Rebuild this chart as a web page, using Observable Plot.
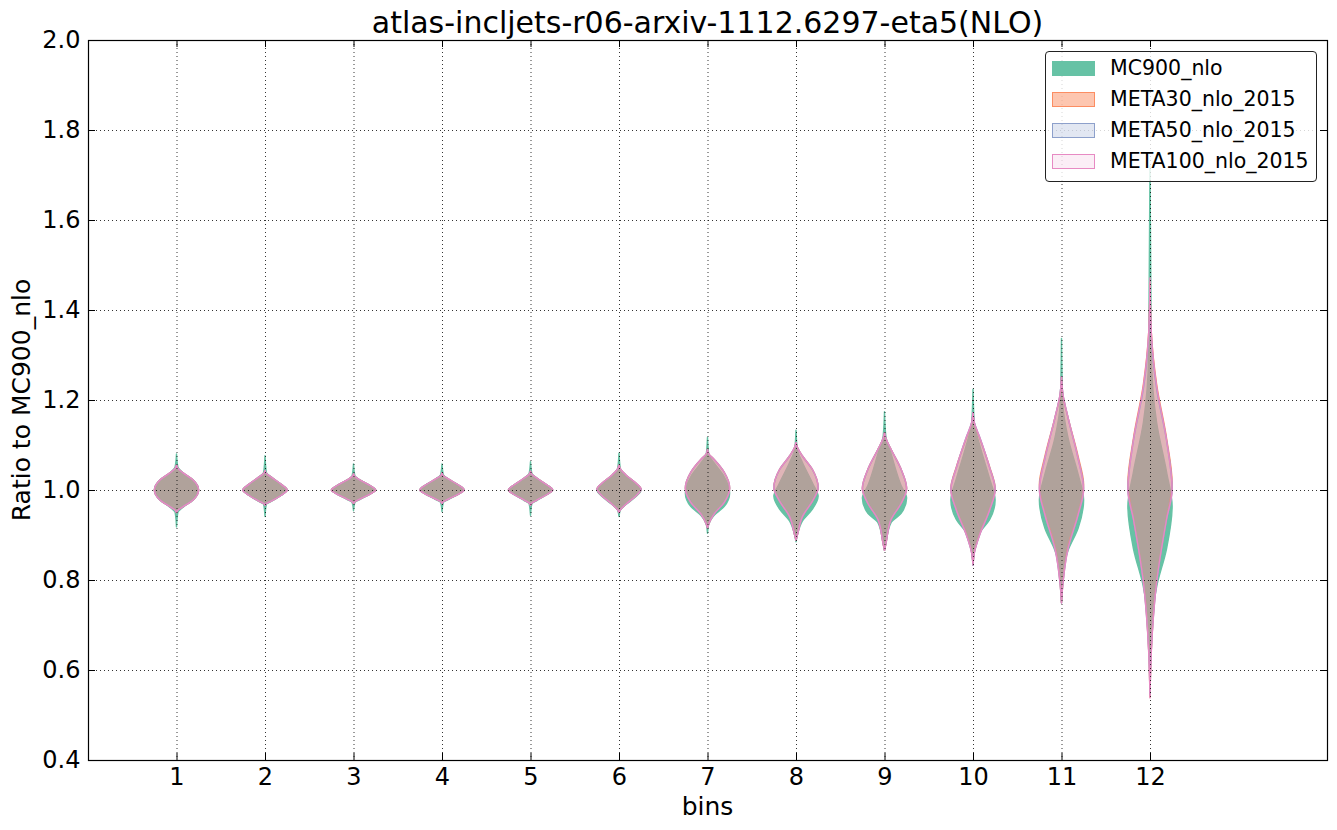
<!DOCTYPE html>
<html>
<head>
<meta charset="utf-8">
<script src="https://cdn.jsdelivr.net/npm/d3@7"></script>
<script src="https://cdn.jsdelivr.net/npm/@observablehq/plot@0.6"></script>
<style>
  body { margin: 0; background: #fff; font-family: "DejaVu Sans", sans-serif; }
  #wrap { position: relative; width: 1337px; height: 830px; overflow: hidden; }
  #wrap svg { position: absolute; left: 0; top: 0; }
  .title { position: absolute; left: 88px; width: 1239px; top: 5px; text-align: center; font-size: 30px; line-height: normal; white-space: nowrap; color: #000; }
  .xlabel { position: absolute; left: 88px; width: 1239px; top: 792px; text-align: center; font-size: 25px; line-height: normal; color: #000; }
  .ylabel { position: absolute; left: 21px; top: 400px; font-size: 25px; line-height: normal; white-space: nowrap; color: #000; transform: translate(-50%, -50%) rotate(-90deg); }
  .legend { position: absolute; left: 1045px; top: 51px; width: 272px; height: 131px; box-sizing: border-box; border: 1px solid #222; border-radius: 4px; background: rgba(255,255,255,0.8); }
  .legend .sw { position: absolute; left: 6px; width: 43px; height: 15px; box-sizing: border-box; border: 1.5px solid; }
  .legend .lt { position: absolute; left: 64px; font-size: 20.5px; line-height: 20px; white-space: nowrap; color: #000; }
</style>
</head>
<body>
<div id="wrap"></div>
<script>
// ---- data ----
const bins = [1, 2, 3, 4, 5, 6, 7, 8, 9, 10, 11, 12];
const xTicks = [1, 2, 3, 4, 5, 6, 7, 8, 9, 10, 11, 12];
const yTicks = [0.4, 0.6, 0.8, 1.0, 1.2, 1.4, 1.6, 1.8, 2.0];
// relative half-width of the violin at each profile knot (bottom -> top)
const knotWidths = [0, 0.06, 0.3, 0.75, 1, 0.75, 0.3, 0.06, 0];
// ratio values at each knot, one row per bin
const mc900 = [
  [0.918, 0.950, 0.962, 0.978, 1.000, 1.022, 1.038, 1.052, 1.080],
  [0.941, 0.968, 0.975, 0.989, 1.000, 1.012, 1.028, 1.040, 1.076],
  [0.954, 0.972, 0.979, 0.991, 1.000, 1.010, 1.022, 1.032, 1.058],
  [0.952, 0.972, 0.979, 0.991, 1.000, 1.011, 1.024, 1.034, 1.058],
  [0.944, 0.969, 0.977, 0.990, 1.000, 1.011, 1.026, 1.037, 1.063],
  [0.941, 0.955, 0.967, 0.985, 1.000, 1.015, 1.033, 1.048, 1.082],
  [0.904, 0.925, 0.944, 0.963, 0.993, 1.030, 1.060, 1.078, 1.117],
  [0.885, 0.900, 0.932, 0.958, 0.986, 1.015, 1.060, 1.090, 1.133],
  [0.866, 0.882, 0.928, 0.948, 0.982, 1.010, 1.080, 1.120, 1.174],
  [0.833, 0.865, 0.905, 0.934, 0.978, 1.025, 1.100, 1.150, 1.224],
  [0.750, 0.820, 0.866, 0.915, 0.978, 1.035, 1.115, 1.190, 1.337],
  [0.610, 0.700, 0.785, 0.870, 0.964, 1.040, 1.150, 1.300, 1.720]
];
const meta30 = [
  [0.950, 0.955, 0.963, 0.978, 1.000, 1.022, 1.038, 1.048, 1.055],
  [0.966, 0.970, 0.976, 0.989, 1.000, 1.012, 1.028, 1.037, 1.043],
  [0.970, 0.974, 0.980, 0.991, 1.000, 1.010, 1.022, 1.030, 1.036],
  [0.970, 0.974, 0.980, 0.991, 1.000, 1.011, 1.024, 1.032, 1.038],
  [0.966, 0.971, 0.978, 0.990, 1.000, 1.011, 1.026, 1.035, 1.042],
  [0.950, 0.956, 0.968, 0.986, 1.002, 1.016, 1.034, 1.047, 1.055],
  [0.916, 0.925, 0.947, 0.972, 1.004, 1.040, 1.068, 1.080, 1.090],
  [0.889, 0.900, 0.942, 0.976, 1.005, 1.045, 1.075, 1.095, 1.105],
  [0.866, 0.880, 0.935, 0.970, 1.004, 1.046, 1.090, 1.115, 1.127],
  [0.835, 0.862, 0.902, 0.957, 1.004, 1.052, 1.115, 1.148, 1.170],
  [0.750, 0.792, 0.878, 0.948, 1.012, 1.075, 1.160, 1.212, 1.250],
  [0.540, 0.645, 0.800, 0.938, 1.015, 1.115, 1.235, 1.350, 1.460]
];
const meta50 = [
  [0.950, 0.955, 0.963, 0.978, 1.000, 1.022, 1.038, 1.048, 1.055],
  [0.966, 0.970, 0.976, 0.989, 1.000, 1.012, 1.028, 1.037, 1.043],
  [0.970, 0.974, 0.980, 0.991, 1.000, 1.010, 1.022, 1.030, 1.036],
  [0.970, 0.974, 0.980, 0.991, 1.000, 1.011, 1.024, 1.032, 1.038],
  [0.966, 0.971, 0.978, 0.990, 1.000, 1.011, 1.026, 1.035, 1.042],
  [0.950, 0.956, 0.968, 0.986, 1.002, 1.016, 1.034, 1.047, 1.055],
  [0.916, 0.925, 0.947, 0.972, 1.004, 1.040, 1.068, 1.080, 1.090],
  [0.889, 0.900, 0.942, 0.976, 1.005, 1.045, 1.075, 1.095, 1.105],
  [0.866, 0.880, 0.935, 0.970, 1.004, 1.046, 1.090, 1.115, 1.127],
  [0.833, 0.860, 0.900, 0.955, 1.002, 1.050, 1.118, 1.150, 1.172],
  [0.749, 0.790, 0.872, 0.945, 1.004, 1.070, 1.160, 1.215, 1.252],
  [0.545, 0.645, 0.795, 0.935, 1.002, 1.110, 1.225, 1.340, 1.450]
];
const meta100 = [
  [0.950, 0.955, 0.963, 0.978, 1.000, 1.022, 1.038, 1.048, 1.055],
  [0.966, 0.970, 0.976, 0.989, 1.000, 1.012, 1.028, 1.037, 1.043],
  [0.970, 0.974, 0.980, 0.991, 1.000, 1.010, 1.022, 1.030, 1.036],
  [0.970, 0.974, 0.980, 0.991, 1.000, 1.011, 1.024, 1.032, 1.038],
  [0.966, 0.971, 0.978, 0.990, 1.000, 1.011, 1.026, 1.035, 1.042],
  [0.950, 0.956, 0.968, 0.986, 1.002, 1.016, 1.034, 1.047, 1.055],
  [0.916, 0.925, 0.947, 0.972, 1.004, 1.040, 1.068, 1.080, 1.090],
  [0.889, 0.900, 0.942, 0.976, 1.005, 1.045, 1.075, 1.095, 1.105],
  [0.866, 0.880, 0.935, 0.970, 1.004, 1.046, 1.090, 1.115, 1.127],
  [0.833, 0.860, 0.900, 0.955, 1.000, 1.050, 1.118, 1.150, 1.172],
  [0.749, 0.790, 0.870, 0.945, 1.000, 1.070, 1.160, 1.215, 1.252],
  [0.538, 0.640, 0.795, 0.935, 1.000, 1.110, 1.230, 1.350, 1.471]
];
const seriesNames = ["MC900_nlo", "META30_nlo_2015", "META50_nlo_2015", "META100_nlo_2015"];
const seriesColors = ["#66c2a5", "#fc8d62", "#8da0cb", "#e78ac3"];
const seriesOpacity = [1, 0.5, 0.25, 0.15];
const seriesKnots = [mc900, meta30, meta50, meta100];
const halfWidth = 0.25;

// ---- build table ----
const rows = [];
seriesKnots.forEach((knots, s) => knots.forEach((k, i) => k.forEach((v, j) =>
  rows.push({series: seriesNames[s], bin: bins[i], y: v, w: knotWidths[j]}))));

const W = 1337, H = 830, mL = 88, mR = 10, mT = 40, mB = 70;
const innerW = W - mL - mR, innerH = H - mT - mB;
const tick = 7;

const violinMarks = seriesNames.map((name, s) =>
  Plot.areaX(rows.filter(d => d.series === name), {
    y: "y",
    x1: d => d.bin - d.w * halfWidth,
    x2: d => d.bin + d.w * halfWidth,
    z: "bin",
    fill: seriesColors[s],
    fillOpacity: seriesOpacity[s],
    stroke: seriesColors[s],
    strokeWidth: 1.4,
    curve: "monotone-y"
  }));

const grid = {stroke: "#000", strokeWidth: 0.8, strokeDasharray: "1,3"};

const chart = Plot.plot({
  width: W, height: H,
  marginLeft: mL, marginRight: mR, marginTop: mT, marginBottom: mB,
  style: {fontFamily: "DejaVu Sans", fontSize: "24px", color: "#000", background: "transparent", overflow: "visible"},
  x: {domain: [0, 14], ticks: xTicks, tickSize: 0, tickPadding: 7, label: null, tickFormat: d => String(d)},
  y: {domain: [0.4, 2.0], ticks: yTicks, tickSize: 0, tickPadding: 8, label: null, tickFormat: d3.format(".1f")},
  marks: [
    ...violinMarks,
    Plot.ruleX(xTicks, {x: d => d, ...grid}),
    Plot.ruleY(yTicks, {y: d => d, ...grid}),
    Plot.ruleY(yTicks, {y: d => d, stroke: "#000", insetRight: innerW - tick}),
    Plot.ruleY(yTicks, {y: d => d, stroke: "#000", insetLeft: innerW - tick}),
    Plot.ruleX(xTicks, {x: d => d, stroke: "#000", insetTop: innerH - tick}),
    Plot.ruleX(xTicks, {x: d => d, stroke: "#000", insetBottom: innerH - tick}),
    Plot.frame({stroke: "#000", strokeWidth: 1.2})
  ]
});

const wrap = document.getElementById("wrap");
wrap.appendChild(chart);

const title = document.createElement("div");
title.className = "title";
title.textContent = "atlas-incljets-r06-arxiv-1112.6297-eta5(NLO)";
wrap.appendChild(title);

const xl = document.createElement("div");
xl.className = "xlabel";
xl.textContent = "bins";
wrap.appendChild(xl);

const yl = document.createElement("div");
yl.className = "ylabel";
yl.textContent = "Ratio to MC900_nlo";
wrap.appendChild(yl);

const legend = document.createElement("div");
legend.className = "legend";
const rowCenters = [16, 47, 78, 109];
seriesNames.forEach((name, s) => {
  const sw = document.createElement("div");
  sw.className = "sw";
  sw.style.top = (rowCenters[s] - 7.5) + "px";
  const c = d3.color(seriesColors[s]);
  c.opacity = seriesOpacity[s];
  sw.style.background = c.formatRgb();
  sw.style.borderColor = seriesColors[s];
  legend.appendChild(sw);
  const t = document.createElement("div");
  t.className = "lt";
  t.style.top = (rowCenters[s] - 9.8) + "px";
  t.textContent = name;
  legend.appendChild(t);
});
wrap.appendChild(legend);
</script>
</body>
</html>
